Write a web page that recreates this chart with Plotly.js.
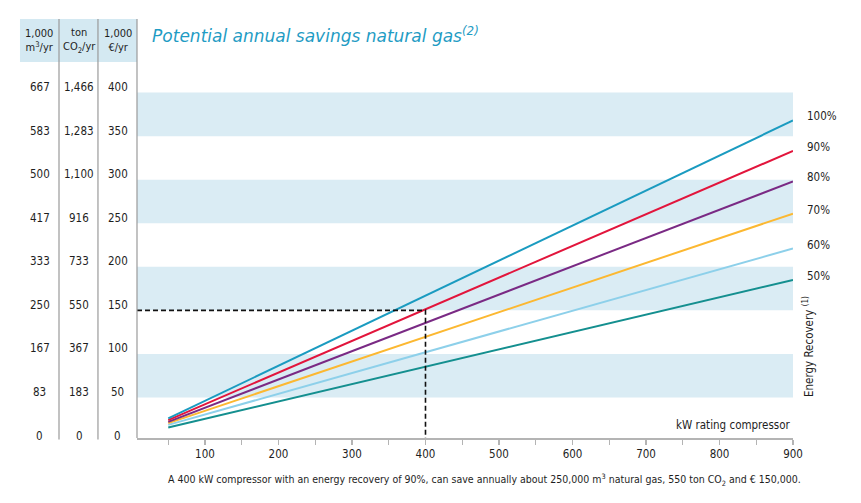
<!DOCTYPE html>
<html><head><meta charset="utf-8">
<script src="https://cdn.plot.ly/plotly-3.0.1.min.js"></script>
<style>html,body{margin:0;padding:0;background:#fff}</style>
</head><body><div id="chart" style="width:861px;height:503px"></div>
<script>
// ---- data ----
const kwRating = [50, 900];
const recoveryLabels = ['100%', '90%', '80%', '70%', '60%', '50%'];
const savings100 = [26, 368];
const savings90 = [24, 333];
const savings80 = [22, 298];
const savings70 = [20.5, 261];
const savings60 = [18.5, 221];
const savings50 = [15.5, 185];
const lineColors = ['#1a9bc0', '#e2153c', '#7a2a84', '#fcb831', '#8dd0ea', '#148f8f'];

const euroTicks = [0, 50, 100, 150, 200, 250, 300, 350, 400];
const euroTickText = ['0', '50', '100', '150', '200', '250', '300', '350', '400'];
const gasTickText = ['0', '83', '167', '250', '333', '417', '500', '583', '667'];
const co2TickText = ['0', '183', '367', '550', '733', '916', '1,100', '1,283', '1,466'];
const columnHeaders = ['1,000<br>m<sup>3</sup>/yr', 'ton<br>CO<sub>2</sub>/yr', '1,000<br>€/yr'];

const xTickVals = [100, 200, 300, 400, 500, 600, 700, 800, 900];
const xTickText = ['100', '200', '300', '400', '500', '600', '700', '800', '900'];
const xMinorTickVals = [50, 150, 250, 350, 450, 550, 650, 750, 850];

const bandRanges = [[50, 100], [150, 200], [250, 300], [350, 400]];
const exampleKW = 400;
const exampleSavings = 150;

// ---- layout constants ----
const xRange = [7.5, 900];
const yRange = [0, 408.7];
const axisPos = 3 / 356;
const FONT = "'DejaVu Sans Condensed', 'Liberation Sans Narrow', 'DejaVu Sans', sans-serif";
const TXT = '#1e1e1e';

const series = [savings100, savings90, savings80, savings70, savings60, savings50];

const traces = [];
for (let i = series.length - 1; i >= 0; i--) {
  traces.push({
    x: kwRating, y: series[i], type: 'scatter', mode: 'lines',
    line: {color: lineColors[i], width: 2}, hoverinfo: 'skip', showlegend: false
  });
}
traces.push({
  x: [xRange[0], exampleKW, exampleKW],
  y: [exampleSavings, exampleSavings, yRange[1] * axisPos],
  type: 'scatter', mode: 'lines',
  line: {color: '#111', width: 1.6, dash: '5px,3px'},
  hoverinfo: 'skip', showlegend: false
});

const shapes = bandRanges.map(b => ({
  type: 'rect', xref: 'paper', yref: 'y', x0: 0, x1: 1, y0: b[0], y1: b[1],
  fillcolor: '#daecf4', line: {width: 0}, layer: 'below'
}));
shapes.push({
  type: 'rect', xref: 'paper', yref: 'paper', x0: -0.1784, x1: 0, y0: 1.0646, y1: 1.1854,
  fillcolor: '#d4e9f2', line: {width: 0}, layer: 'below'
});
[-0.1189, -0.0595, 0].forEach(px => shapes.push({
  type: 'line', xref: 'paper', yref: 'paper', x0: px, x1: px, y0: (px === 0 ? axisPos : 0.004), y1: 1.1854,
  line: {color: '#9a9a9a', width: 1.2}
}));

const colX = [-0.1479, -0.0884, -0.029];
const annotations = [];
columnHeaders.forEach((h, i) => annotations.push({
  xref: 'paper', yref: 'paper', x: colX[i], y: 1.125, text: h, showarrow: false,
  xanchor: 'center', yanchor: 'middle', font: {family: FONT, size: 11, color: TXT}
}));
const cols = [gasTickText, co2TickText, euroTickText];
cols.forEach((col, ci) => col.forEach((t, k) => annotations.push({
  xref: 'paper', yref: 'y', x: colX[ci], y: euroTicks[k], yshift: 5.5, text: t, showarrow: false,
  xanchor: 'center', yanchor: 'middle', font: {family: FONT, size: 11.5, color: TXT}
})));
recoveryLabels.forEach((lab, i) => annotations.push({
  xref: 'paper', yref: 'y', x: 1.018, y: series[i][series[i].length - 1], yshift: 4,
  text: lab, showarrow: false, xanchor: 'left', yanchor: 'middle',
  font: {family: FONT, size: 11.5, color: TXT}
}));
annotations.push({
  xref: 'paper', yref: 'paper', x: 1.0229, y: 0.264, textangle: -90,
  text: 'Energy Recovery <sup>(1)</sup>', showarrow: false, xanchor: 'center', yanchor: 'middle',
  font: {family: FONT, size: 11.5, color: TXT}
});
annotations.push({
  xref: 'paper', yref: 'paper', x: 1, y: 0.045, text: 'kW rating compressor', showarrow: false,
  xanchor: 'right', yanchor: 'middle', font: {family: FONT, size: 11.5, color: TXT}
});
annotations.push({
  xref: 'paper', yref: 'paper', x: 0.044, y: -0.1096,
  text: 'A 400 kW compressor with an energy recovery of 90%, can save annually about 250,000 m<sup>3</sup> natural gas, 550 ton CO<sub>2</sub> and € 150,000.',
  showarrow: false, xanchor: 'left', yanchor: 'middle', font: {family: FONT, size: 10.5, color: TXT}
});

const layout = {
  width: 861, height: 503,
  margin: {l: 137, r: 68, t: 85, b: 62},
  paper_bgcolor: '#fff', plot_bgcolor: 'rgba(0,0,0,0)',
  title: {
    text: '<i>Potential annual savings natural gas<sup>(2)</sup></i>',
    x: 0.023, xref: 'paper', xanchor: 'left', y: 0.9284, yref: 'container', yanchor: 'middle',
    font: {family: 'DejaVu Sans, sans-serif', size: 17, color: '#1f9cc4'}
  },
  xaxis: {
    range: xRange, anchor: 'free', position: axisPos,
    showline: true, linecolor: '#b4b4b4', linewidth: 1.5,
    ticks: 'outside', ticklen: 5, tickcolor: '#b4b4b4', tickwidth: 1.2,
    tickmode: 'array', tickvals: xTickVals, ticktext: xTickText,
    minor: {tickmode: 'array', tickvals: xMinorTickVals, ticks: 'outside', ticklen: 5,
            tickcolor: '#b4b4b4', tickwidth: 1.2, showgrid: false},
    showgrid: false, zeroline: false, fixedrange: true,
    tickfont: {family: FONT, size: 11.5, color: TXT}
  },
  yaxis: {
    range: yRange, showticklabels: false, showgrid: false, zeroline: false,
    showline: false, ticks: '', fixedrange: true
  },
  shapes: shapes, annotations: annotations, showlegend: false, hovermode: false
};

Plotly.newPlot('chart', traces, layout, {displayModeBar: false, staticPlot: true});
</script>
</body></html>
